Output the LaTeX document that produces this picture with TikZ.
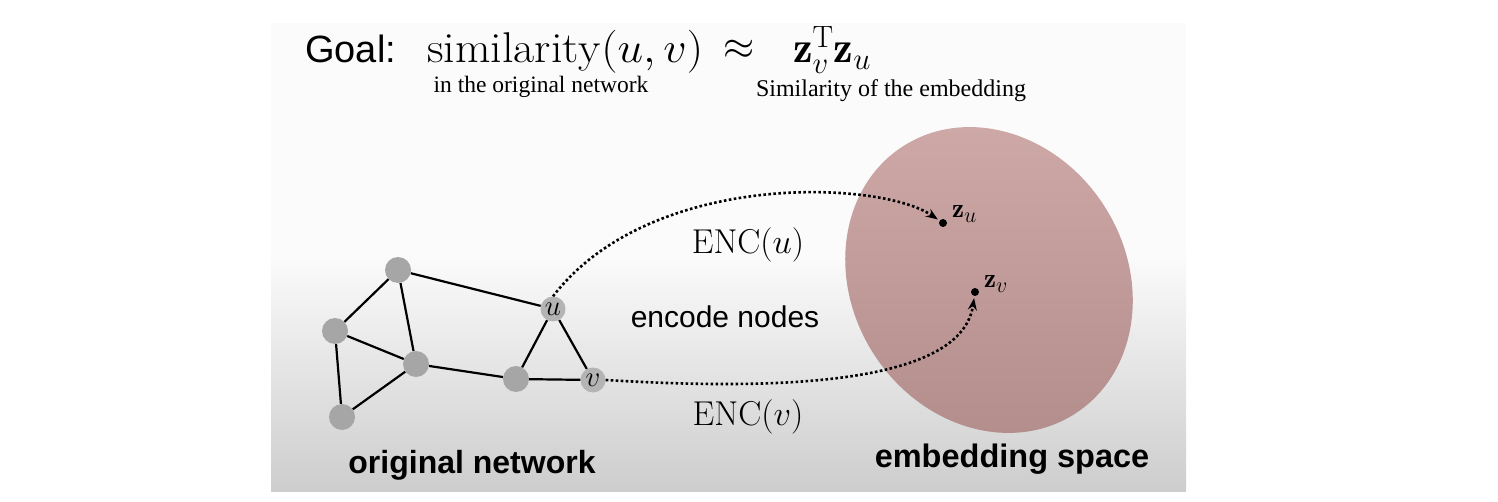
\RequirePackage{fix-cm}
\documentclass[tikz,border=0pt]{standalone}
\usepackage{amsmath}
\usepackage{graphicx}
\usepackage{fontspec}
\newfontfamily\arialfont{Liberation Sans}
\newfontfamily\tnrfont{Liberation Serif}
\usetikzlibrary{arrows.meta}
\definecolor{panelwhite}{RGB}{251,251,251}
\definecolor{panelgray}{RGB}{205,205,205}
\definecolor{elltop}{RGB}{207,169,167}
\definecolor{ellbot}{RGB}{178,141,140}
\definecolor{nodegray}{RGB}{166,166,166}
\definecolor{nodelight}{RGB}{180,180,180}
\newcommand{\bigsub}[1]{\text{\fontsize{22}{24}\selectfont$#1$}}
\tikzset{
  gnode/.style={circle, fill=nodegray, minimum size=26pt, inner sep=0pt},
  lnode/.style={circle, fill=nodelight, minimum size=25pt, inner sep=0pt, font=\fontsize{29}{30}\selectfont},
  edge/.style={line width=2.2pt, black},
  enc/.style={line width=2.6pt, dash pattern=on 2.6pt off 2.4pt, -{Stealth[length=12pt,width=9pt]}, shorten >=2pt},
  dot/.style={circle, fill=black, minimum size=8pt, inner sep=0pt},
  txt/.style={inner sep=0pt},
}
\begin{document}
\begin{tikzpicture}[x=1pt,y=-1pt]
\useasboundingbox (0,0) rectangle (1498,502);
% panel
\fill[panelwhite] (271,23) rectangle (1186,491);
\shade[top color=panelwhite,bottom color=panelgray] (271,255) rectangle (1186,491);
% embedding ellipse
\begin{scope}
\clip[rotate around={32.7:(989,280)}] (989,280) ellipse [x radius=137, y radius=159];
\shade[top color=elltop,bottom color=ellbot] (835,115) rectangle (1145,445);
\end{scope}

% title
\node[txt, anchor=base west, font=\arialfont\fontsize{38}{40}\selectfont] (goal) at (305,63) {Goal:};
\node[txt, anchor=base west, font=\fontsize{43}{46}\selectfont] (sim) at (427,63) {\scalebox{1.07}[1]{$\mathrm{similarity}(u,v)$}};
\node[txt, anchor=base, font=\fontsize{40}{44}\selectfont] (approx) at (739,60) {$\approx$};
\node[txt, anchor=base west, font=\fontsize{44}{48}\selectfont] (zz) at (793,63) {$\mathbf{z}_v^{\mathrm{T}}\mathbf{z}_u$};
\node[txt, anchor=base, font=\tnrfont\fontsize{23.5}{26}\selectfont] (cap1) at (541,93) {in the original network};
\node[txt, anchor=base, font=\tnrfont\fontsize{24}{26}\selectfont] (cap2) at (891,97) {Similarity of the embedding};

% graph
\node[gnode] (n1) at (398,270) {};
\node[gnode] (n2) at (335,331) {};
\node[gnode] (n3) at (416,364) {};
\node[gnode] (n4) at (342,417) {};
\node[gnode] (n5) at (516,379) {};
\node[lnode] (nu) at (553,309) {$u$};
\node[lnode] (nv) at (593,380) {$v$};
\draw[edge] (n1) -- (n2);
\draw[edge] (n1) -- (n3);
\draw[edge] (n1) -- (nu);
\draw[edge] (n2) -- (n3);
\draw[edge] (n2) -- (n4);
\draw[edge] (n3) -- (n4);
\draw[edge] (n3) -- (n5);
\draw[edge] (n5) -- (nu);
\draw[edge] (n5) -- (nv);
\draw[edge] (nu) -- (nv);

% embedding points
\node[dot] (zu) at (943,223) {};
\node[dot] (zv) at (975,292) {};
\node[txt, anchor=base west, font=\fontsize{27}{30}\selectfont] (zul) at (952,218) {$\mathbf{z}_{\bigsub{u}}$};
\node[txt, anchor=base west, font=\fontsize{27}{30}\selectfont] (zvl) at (984,288) {$\mathbf{z}_{\bigsub{v}}$};

% encoders
\draw[enc] (nu.north) .. controls (650,170) and (880,180) .. (zu);
\draw[enc] (nv.east) .. controls (800,392) and (962,380) .. (zv);

\node[txt, font=\fontsize{34.5}{38}\selectfont] (encu) at (748,245) {$\mathrm{ENC}(u)$};
\node[txt, font=\fontsize{34.5}{38}\selectfont] (encv) at (748,417) {$\mathrm{ENC}(v)$};
\node[txt, anchor=base, font=\arialfont\fontsize{30}{32}\selectfont] (encn) at (725,327) {encode nodes};

\node[txt, anchor=base, font=\arialfont\bfseries\fontsize{32}{34}\selectfont] (onet) at (472,473) {original network};
\node[txt, anchor=base, font=\arialfont\bfseries\fontsize{32.5}{34}\selectfont] (espace) at (1012,467) {embedding space};
\end{tikzpicture}
\end{document}
